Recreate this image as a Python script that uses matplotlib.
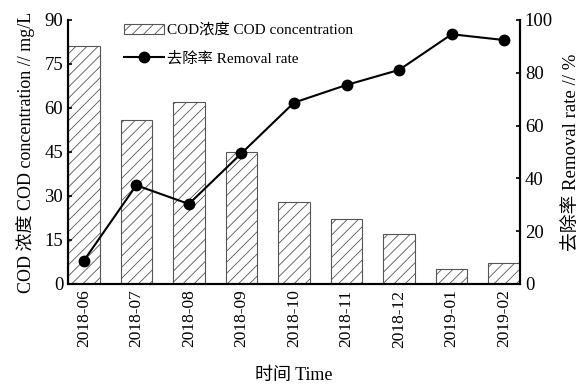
import numpy as np
import matplotlib
matplotlib.use("Agg")
import matplotlib.pyplot as plt

plt.rcParams['font.family'] = ['Liberation Serif', 'Noto Sans CJK SC']
plt.rcParams['hatch.linewidth'] = 0.6
plt.rcParams['hatch.color'] = '#444444'

months = ["2018-06", "2018-07", "2018-08", "2018-09", "2018-10",
          "2018-11", "2018-12", "2019-01", "2019-02"]
cod = [81, 56, 62, 45, 28, 22, 17, 5, 7]            # mg/L
removal = [8.8, 37.4, 30.3, 49.5, 68.7, 75.4, 81.1, 94.6, 92.4]  # %

x = np.arange(len(months))

fig = plt.figure(figsize=(5.88, 3.84), dpi=100)
ax = fig.add_axes([68/588, 1 - 284/384, (520 - 68)/588, (284 - 20)/384])
ax2 = ax.twinx()

bars = ax.bar(x, cod, width=0.6, color="white", edgecolor="#555555",
              linewidth=0.8, hatch="///", label="COD浓度 COD concentration")
line, = ax2.plot(x, removal, color="black", lw=1.5, marker="o", ms=7.5,
                 label="去除率 Removal rate")

ax.set_xlim(-0.3, 8.3)
ax.set_ylim(0, 90)
ax.set_yticks(np.arange(0, 91, 15))
ax2.set_ylim(0, 100)
ax2.set_yticks(np.arange(0, 101, 20))

ax.set_xticks(x)
ax.set_xticklabels(months, rotation=90)

for a in (ax, ax2):
    a.spines["top"].set_visible(False)
    for s in ("left", "right", "bottom"):
        a.spines[s].set_linewidth(1.5)
    a.tick_params(direction="in", length=3, width=1.2, labelsize=13.5)
ax.tick_params(axis="x", length=0, pad=4, labelsize=12.5)

ax.set_ylabel("COD 浓度 COD concentration // mg/L", fontsize=13, labelpad=7)
ax2.set_ylabel("去除率 Removal rate // %", fontsize=13.5, labelpad=8)
ax.set_xlabel("时间 Time", fontsize=13, labelpad=14)

ax.legend([bars, line], [bars.get_label(), line.get_label()],
          loc="upper left", bbox_to_anchor=(0.11, 1.012), frameon=False,
          fontsize=11, handlelength=2.6, handleheight=0.7,
          borderaxespad=0, labelspacing=0.9, handletextpad=0.2)

fig.savefig("out.png", dpi=100)
